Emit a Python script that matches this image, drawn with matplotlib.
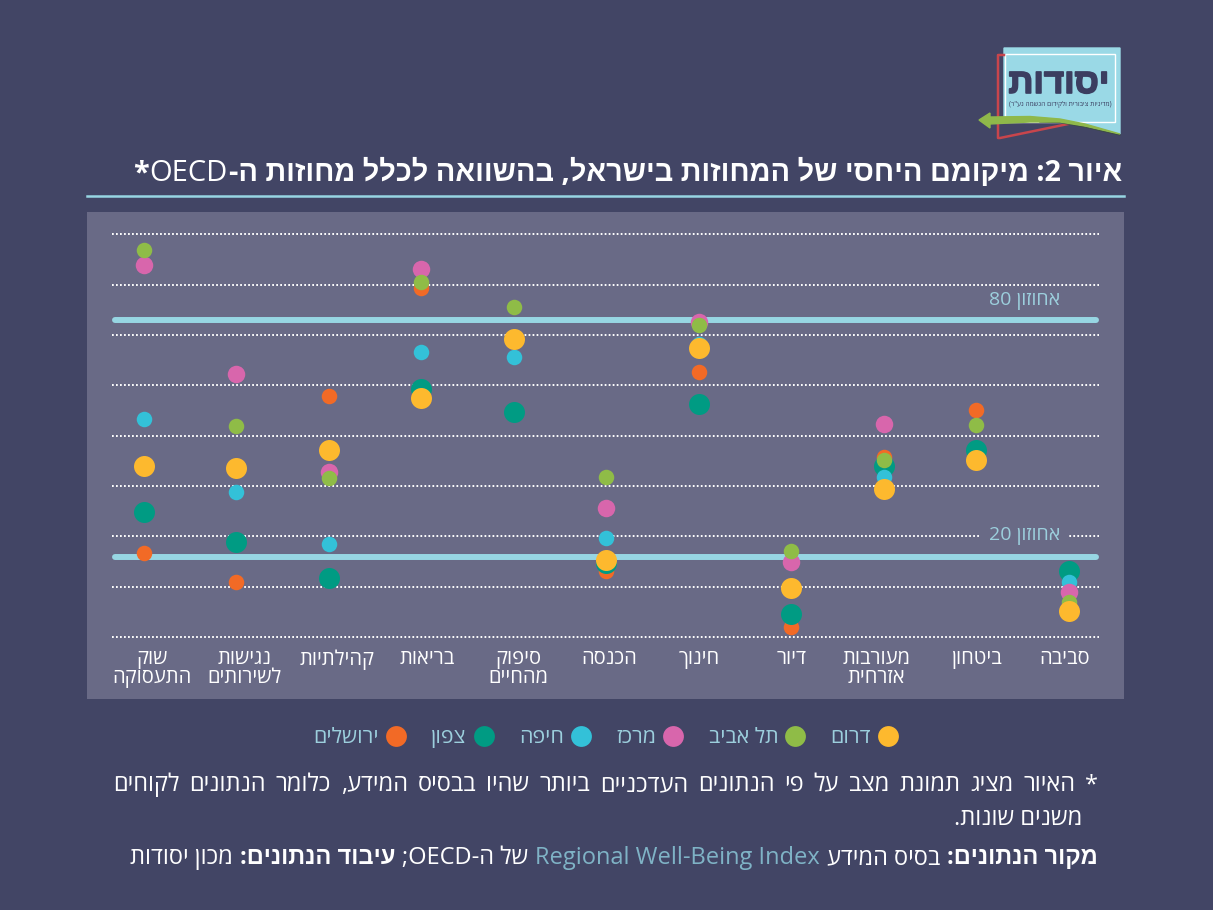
import re
import matplotlib
matplotlib.use('Agg')
import matplotlib.pyplot as plt
import matplotlib.patheffects as pe
from matplotlib.lines import Line2D
from matplotlib.patches import Polygon, Rectangle
import numpy as np

plt.rcParams['font.family'] = ['Open Sans', 'Liberation Sans', 'DejaVu Sans']

W, H = 1213, 910
BG = '#424565'
PANEL = '#696A86'
LIGHT = '#97D6E3'
LABEL = '#9CCFDD'

categories = ['שוק\nהתעסוקה', 'נגישות\nלשירותים', 'קהילתיות', 'בריאות', 'סיפוק\nמהחיים', 'הכנסה',
              'חינוך', 'דיור', 'מעורבות\nאזרחית', 'ביטחון', 'סביבה']

# values are percentiles, nan = no dot visible
south = [43.0, 42.5, 47.1, 60.3, 75.2, 19.1, 72.8, 12.0, 37.1, 44.5, 6.3]
tel_aviv = [97.8, 53.0, 39.9, 89.7, 83.4, 40.3, 78.7, 21.4, 44.5, 53.3, 8.6]
center = [93.9, 66.2, 41.4, 92.9, np.nan, 32.3, 79.6, 18.7, 53.5, np.nan, 11.1]
haifa = [54.8, 36.5, 23.1, 71.9, 70.5, 24.7, 73.9, np.nan, 40.3, np.nan, 13.6]
north = [31.3, 23.6, 14.6, 62.5, 56.7, 18.4, 58.6, 5.4, 43.0, 47.0, 16.4]
jerusalem = [20.8, 13.6, 60.6, 88.2, np.nan, 16.3, 66.7, 2.1, 45.3, 57.1, np.nan]

grid_levels = [-0.4, 12.4, 25.1, 37.9, 50.7, 63.4, 76.2, 88.9, 101.7]
percentiles = [20, 80]

# (name, values, colour, dot diameter in px), drawn bottom to top
series = [
    ('ירושלים', jerusalem, '#F26A26', 15.5),
    ('צפון', north, '#009B83', 21),
    ('חיפה', haifa, '#33C1D8', 15.5),
    ('מרכז', center, '#D866AC', 17.5),
    ('תל אביב', tel_aviv, '#8FBC47', 15.5),
    ('דרום', south, '#FDB92E', 21),
]

# tick labels don't sit exactly under the dots in the original
label_offsets = [0.09, 0.09, 0.09, 0.06, 0.05, 0.03, 0.01, 0.0, -0.08, 0.0, -0.04]


def visual(s):
    """matplotlib has no bidi, so turn logical Hebrew order into display order."""
    lines = []
    for line in s.split('\n'):
        parts = re.findall(r'[A-Za-z0-9](?:[A-Za-z0-9 \-]*[A-Za-z0-9])?|[^A-Za-z0-9]+', line)
        out = []
        for p in reversed(parts):
            if re.match(r'[A-Za-z0-9]', p):
                out.append(p)
            else:
                out.append(p[::-1].translate(str.maketrans('()', ')(')))
        lines.append(''.join(out))
    return '\n'.join(lines)


def s_px(d):
    return (d * 72 / 100) ** 2


fig = plt.figure(figsize=(W / 100, H / 100), dpi=100, facecolor=BG)
fig.add_artist(Rectangle((87 / W, 1 - 699 / H), (1124 - 87) / W, (699 - 212) / H, transform=fig.transFigure,
                         facecolor=PANEL, edgecolor='none', zorder=0))

# axes stop just under the lowest grid line so the tick labels land inside the panel
ax = fig.add_axes([87 / W, 1 - 640 / H, (1124 - 87) / W, (640 - 212) / H], facecolor='none')
ax.set_xlim(-0.613, 10.598)
ax.set_ylim(-1.16, 107.39)
for side in ax.spines.values():
    side.set_visible(False)

x_pos = np.arange(len(categories))
ax.hlines(grid_levels, -0.34, 10.33, colors='white', linewidth=1.4, linestyles=[(0, (0.9, 1.16))], zorder=1)
for level in percentiles:
    ax.plot([-0.31, 10.30], [level, level], color=LIGHT, lw=4.3, solid_capstyle='round', zorder=2)
ax.text(9.906, 84.9, visual('אחוזון 80'), color=LABEL, fontsize=14, ha='right', va='center', zorder=3)
ax.text(9.906, 25.3, visual('אחוזון 20'), color=LABEL, fontsize=14, ha='right', va='center', zorder=3,
        bbox=dict(facecolor=PANEL, edgecolor='none', pad=5.5))

for name, values, color, size in series:
    ax.scatter(x_pos, values, s=s_px(size), color=color, linewidths=0, zorder=4)

ax.set_xticks(x_pos + np.array(label_offsets))
ax.set_xticklabels([visual(c) for c in categories], color='white', fontsize=14.5, linespacing=0.95)
ax.set_yticks([])
ax.tick_params(axis='x', length=0, pad=6.5)

handles = [Line2D([], [], marker='o', linestyle='none', color=c, markersize=15, markeredgewidth=0, label=visual(n))
           for n, _, c, _ in series]
fig.legend(handles=handles, loc='center', bbox_to_anchor=(606 / W, 1 - 737.5 / H), ncols=6, frameon=False,
           markerfirst=False, labelcolor=LABEL, fontsize=15.4, columnspacing=1.15, handletextpad=0.3,
           handlelength=1)

# everything outside the panel is placed in pixel coords on a full-figure overlay
over = fig.add_axes([0, 0, 1, 1], facecolor='none')
over.set_xlim(0, W)
over.set_ylim(H, 0)
over.axis('off')

over.plot([87, 1124], [196, 196], color=LIGHT, lw=1.8)

# logo
over.add_patch(Polygon([(1004, 48), (1120, 48), (1120, 134), (1060, 121), (1004, 120)], color='#9AD9E6', zorder=1))
over.add_patch(Rectangle((1005, 54), 110, 68, fill=False, edgecolor='white', lw=1, zorder=2))
over.plot([1004, 998, 998, 1000, 1068], [55, 55, 138, 138, 124], color='#C8454C', lw=1.8, zorder=3)
over.text(1059, 84, visual('יסודות'), color='#3B3E60', fontsize=25, fontweight='bold', ha='center', va='center', zorder=4,
          path_effects=[pe.withStroke(linewidth=1.2, foreground='#3B3E60')])
over.text(1060, 104, visual('(מדיניות ציבורית ולקידום הגשמה נע"ר)'), color='#3B3E60', fontsize=4.8, ha='center', va='center', zorder=4)
over.plot([1040, 1060, 1085, 1120], [122, 122.5, 127, 135], color='#3B4A45', lw=1, zorder=5)
over.add_patch(Polygon([(979, 120), (990, 113), (990, 117), (1030, 116.5), (1060, 119), (1085, 124), (1120, 134),
                        (1085, 126), (1060, 122), (1030, 122), (990, 124), (990, 128)],
                       color='#8FB84A', zorder=6))

renderer = fig.canvas.get_renderer()


def place_runs(runs, x_right, y, fontsize=17):
    # runs go right to left, each one is (text, weight, colour, gap after it[, size])
    for run in runs:
        text, weight, color, gap = run[:4]
        size = run[4] if len(run) > 4 else fontsize
        t = over.text(x_right, y, visual(text), color=color, fontweight=weight, fontsize=size, ha='right', va='center_baseline')
        x_right -= t.get_window_extent(renderer).width + gap


# OECD sits in a lighter weight than the rest of the title
title_runs = [
    ('איור 2: מיקומם היחסי של המחוזות בישראל, בהשוואה לכלל מחוזות ה-', 'bold', 'white', 1),
    ('OECD', 'normal', 'white', 1, 21),
    ('*', 'bold', 'white', 0),
]
place_runs(title_runs, 1122, 170, fontsize=20.8)

# first note line is justified in the original, from x=113 to x=1098
note_words = '* האיור מציג תמונת מצב על פי הנתונים העדכניים ביותר שהיו בבסיס המידע, כלומר הנתונים לקוחים'.split()
probe = [over.text(0, 0, visual(w), fontsize=17) for w in note_words]
ink = sum(p.get_window_extent(renderer).width for p in probe)
for p in probe:
    p.remove()
word_gap = (1098 - 113 - ink) / (len(note_words) - 1)
place_runs([(w, 'normal', 'white', word_gap) for w in note_words], 1098, 782)
place_runs([('משנים שונות.', 'normal', 'white', 0)], 1082, 816)

# source line mixes weights and colours
source_runs = [
    ('מקור הנתונים:', 'bold', 'white', 7),
    ('בסיס המידע', 'normal', 'white', 7),
    ('Regional Well-Being Index', 'normal', '#7FB3C6', 7),
    ('של ה-OECD;', 'normal', 'white', 7),
    ('עיבוד הנתונים:', 'bold', 'white', 7),
    ('מכון יסודות', 'normal', 'white', 0),
]
place_runs(source_runs, 1098, 855)

fig.savefig('out.png', dpi=100, facecolor=BG)
